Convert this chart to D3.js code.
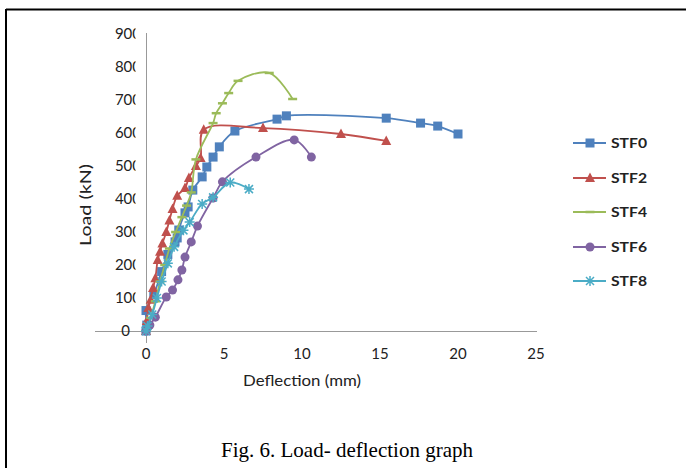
<!DOCTYPE html>
<html><head><meta charset="utf-8">
<script src="https://cdn.jsdelivr.net/npm/d3@7"></script>
<style>body{margin:0;background:#fff}svg{display:block}</style>
</head><body>
<svg id="c" width="686" height="468"></svg>
<script>
// ---- data ----
const seriesNames = ["STF0","STF2","STF4","STF6","STF8"];
const xTicks = [0,5,10,15,20,25];
const yTicks = [0,100,200,300,400,500,600,700,800,900];
const stf0 = [[0,0],[0.05,18],[0,62],[0.5,110],[1.0,180],[1.4,232],[1.86,270],[2.0,282],[2.1,306],[2.5,358],[2.7,376],[3.0,427],[3.6,467],[3.9,497],[4.3,527],[4.7,558],[5.7,606],[8.4,642],[9.0,652],[15.4,645],[17.6,630],[18.7,621],[20.0,597]];
const stf2 = [[0,0],[0.05,30],[0.15,70],[0.3,95],[0.45,130],[0.6,160],[0.75,215],[0.9,240],[1.05,265],[1.3,300],[1.5,335],[1.7,370],[2.0,410],[2.5,433],[2.75,464],[3.2,500],[3.5,524],[3.7,610],[7.5,615],[12.5,597],[15.4,576]];
const stf4 = [[0,0],[0.3,40],[0.6,90],[0.9,150],[1.2,200],[1.5,250],[1.9,300],[2.3,345],[2.6,380],[2.9,420],[3.2,520],[4.3,630],[4.5,660],[4.9,690],[5.3,721],[5.9,758],[7.9,782],[9.4,703]];
const stf6 = [[0,0],[0.25,18],[0.6,42],[1.3,103],[1.7,124],[2.05,155],[2.3,185],[2.5,224],[2.9,270],[3.3,318],[4.3,403],[4.9,452],[7.05,527],[9.5,579],[10.6,527]];
const stf8 = [[0,0],[0.1,15],[0.4,50],[0.7,100],[1.0,150],[1.4,205],[1.8,255],[2.4,305],[2.8,330],[3.6,385],[4.3,405],[5.4,450],[6.6,430]];
const seriesData = [stf0,stf2,stf4,stf6,stf8];
const colors = ["#4F81BD","#C0504D","#9BBB59","#8064A2","#4BACC6"];
const markers = ["square","triangle","dash","circle","star"];
const xTitle = "Deflection (mm)", yTitle = "Load (kN)", caption = "Fig. 6. Load- deflection graph";

const svg = d3.select("#c");
// frame
svg.append("line").attr("x1",6).attr("x2",686).attr("y1",9.5).attr("y2",9.5).attr("stroke","#000").attr("stroke-width",2);
svg.append("line").attr("x1",6).attr("x2",6).attr("y1",9).attr("y2",468).attr("stroke","#000").attr("stroke-width",2);

const x = d3.scaleLinear().domain([0,25]).range([146,536]);
const y = d3.scaleLinear().domain([0,900]).range([331,34]);

// axes lines
svg.append("line").attr("x1",95).attr("x2",537).attr("y1",y(0)+0.5).attr("y2",y(0)+0.5).attr("stroke","#999");
svg.append("line").attr("x1",x(0)+0.5).attr("x2",x(0)+0.5).attr("y1",33).attr("y2",343).attr("stroke","#999");

// y tick labels (clipped as in the original)
svg.append("clipPath").attr("id","yclip").append("rect").attr("x",0).attr("y",0).attr("width",135.5).attr("height",468);
svg.append("g").attr("clip-path","url(#yclip)").selectAll("text").data(yTicks).join("text")
  .attr("x",d=>d===0?130:141).attr("y",d=>y(d)+5).attr("text-anchor","end")
  .attr("font-family","Lato").attr("font-size",15).attr("fill","#222")
  .text(d=>d);
// x tick labels
svg.append("g").selectAll("text").data(xTicks).join("text")
  .attr("x",d=>x(d)).attr("y",359).attr("text-anchor","middle")
  .attr("font-family","Lato").attr("font-size",15).attr("fill","#222")
  .text(d=>d);
// titles
svg.append("text").attr("x",302).attr("y",386).attr("text-anchor","middle")
  .attr("font-family","Lato").attr("font-size",15).attr("fill","#222")
  .attr("textLength",118).attr("lengthAdjust","spacingAndGlyphs").text(xTitle);
svg.append("text").attr("transform","translate(91,205) rotate(-90)").attr("text-anchor","middle")
  .attr("font-family","Lato").attr("font-size",15).attr("fill","#222")
  .attr("textLength",82).attr("lengthAdjust","spacingAndGlyphs").text(yTitle);
svg.append("text").attr("x",347).attr("y",457).attr("text-anchor","middle")
  .attr("font-family","Liberation Serif").attr("font-size",21).attr("fill","#000").text(caption);

function drawMarker(g, type, color){
  if(type==="square") g.append("rect").attr("x",-4.5).attr("y",-4.5).attr("width",9).attr("height",9).attr("fill",color);
  else if(type==="triangle") g.append("path").attr("d","M0,-5.5L5,4L-5,4Z").attr("fill",color);
  else if(type==="circle") g.append("circle").attr("r",4.5).attr("fill",color);
  else if(type==="dash") g.append("line").attr("x1",-4.5).attr("x2",4.5).attr("stroke",color).attr("stroke-width",2.5);
  else if(type==="star"){
    const p = "M-4,-4L4,4M-4,4L4,-4M0,-5L0,5M-5,0L5,0";
    g.append("path").attr("d",p).attr("stroke",color).attr("stroke-width",1.5).attr("fill","none");
  }
}

const line = d3.line().x(d=>x(d[0])).y(d=>y(d[1])).curve(d3.curveCatmullRom.alpha(0.5));
seriesData.forEach((data,i)=>{
  const g = svg.append("g");
  g.append("path").datum(data).attr("d",line).attr("fill","none").attr("stroke",colors[i]).attr("stroke-width",1.8);
  data.forEach(d=>{
    const m = g.append("g").attr("transform",`translate(${x(d[0])},${y(d[1])})`);
    drawMarker(m, markers[i], colors[i]);
  });
});

// legend
const legY = [143,178,212,247,281];
seriesNames.forEach((n,i)=>{
  const g = svg.append("g").attr("transform",`translate(0,${legY[i]})`);
  g.append("line").attr("x1",573).attr("x2",606).attr("stroke",colors[i]).attr("stroke-width",2);
  const m = g.append("g").attr("transform","translate(590,0)");
  drawMarker(m, markers[i], colors[i]);
  g.append("text").attr("x",611).attr("y",5).attr("font-family","Lato").attr("font-weight","bold")
    .attr("font-size",14).attr("fill","#222").attr("textLength",36).attr("lengthAdjust","spacingAndGlyphs").text(n);
});
</script>
</body></html>
